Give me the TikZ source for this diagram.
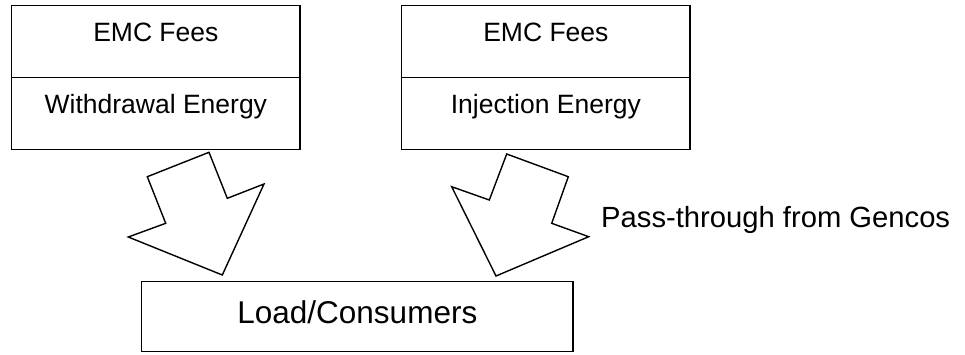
\documentclass[tikz,border=0pt]{standalone}
\usepackage{fontspec}
\setmainfont{Liberation Sans}
\begin{document}
\begin{tikzpicture}[x=1pt,y=-1pt,
  cell/.style={draw,line width=1.4pt,inner sep=0pt,minimum width=288.3pt,minimum height=72pt,
    font=\fontsize{26.5}{30}\selectfont,text height=12pt,text depth=12pt},
  blockarrow/.style={draw,line width=1.4pt,line join=miter,fill=white}]
\useasboundingbox (0,0) rectangle (965,354);
% left box
\node[cell] (lfee) at (155.85,41.2) {EMC Fees};
\node[cell] (lwd) at (155.85,113.3) {Withdrawal Energy};
% right box
\node[cell] (rfee) at (545.85,41.2) {EMC Fees};
\node[cell] (rinj) at (545.85,113.3) {Injection Energy};
% bottom box
\node[draw,line width=1.4pt,inner sep=0pt,minimum width=431.3pt,minimum height=70pt,
  font=\fontsize{31.5}{36}\selectfont,text height=20pt,text depth=6.8pt] (load) at (357.35,316.7) {Load/Consumers};
% label
\node[anchor=base west,inner sep=0pt,font=\fontsize{29.2}{34}\selectfont] (pass) at (601,227) {Pass-through from Gencos};
% block arrows
\draw[blockarrow] (147.3,176.7) -- (209,152.3) -- (227.3,198.3) -- (264,184) -- (222.3,275) -- (128.3,237) -- (165.7,223.3) -- cycle;
\draw[blockarrow] (506.7,154) -- (568.3,176.7) -- (551.7,223.3) -- (588.7,236.7) -- (496,276) -- (451.7,186.7) -- (489.3,200) -- cycle;
\end{tikzpicture}
\end{document}
